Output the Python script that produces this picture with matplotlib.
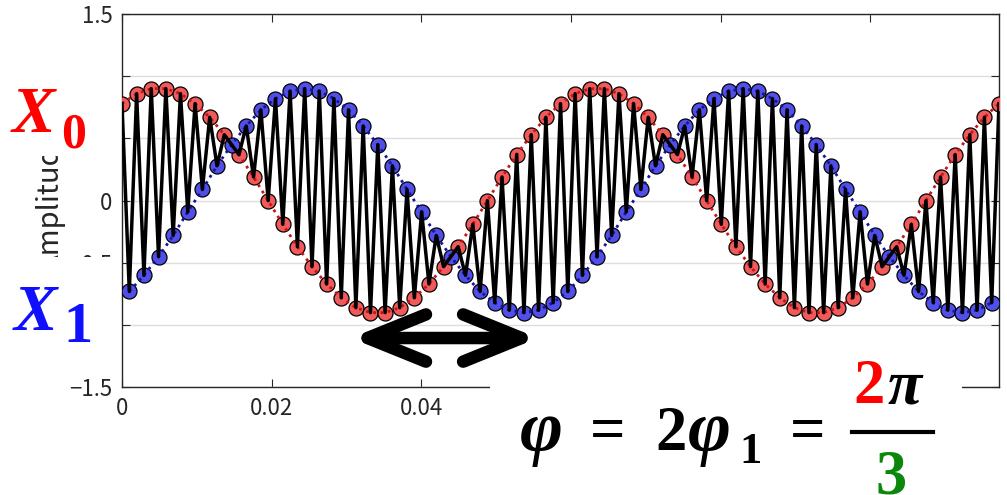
"""
  polyphase samples X0 / X1 on a near-nyquist signal, with the phase annotation
"""
import numpy as np
import matplotlib
matplotlib.use('Agg')
from matplotlib import pyplot as plt
from matplotlib.patches import Rectangle
from matplotlib.lines import Line2D

W,H=1007,495
fs=1024.   #sample rate, Hz

#even samples (red, X0) and odd samples (blue, X1)
red_vals=[0.78,0.86,0.90,0.90,0.86,0.78,0.67,0.53,0.37,0.19,
          0.00,-0.19,-0.37,-0.53,-0.67,-0.78,-0.86,-0.90,-0.90,-0.86,
          -0.78,-0.67,-0.53,-0.37,-0.19,0.00,0.19,0.37,0.53,0.67,
          0.78,0.86,0.90,0.90,0.86,0.78,0.67,0.53,0.37,0.19,
          0.00,-0.19,-0.37,-0.53,-0.67,-0.78,-0.86,-0.90,-0.90,-0.86,
          -0.78,-0.67,-0.53,-0.37,-0.19,0.00,0.19,0.37,0.53,0.67,
          0.78]
blue_vals=[-0.73,-0.60,-0.45,-0.28,-0.09,0.09,0.28,0.45,0.60,0.73,
           0.82,0.88,0.90,0.88,0.82,0.73,0.60,0.45,0.28,0.09,
           -0.09,-0.28,-0.45,-0.60,-0.73,-0.82,-0.88,-0.90,-0.88,-0.82,
           -0.73,-0.60,-0.45,-0.28,-0.09,0.09,0.28,0.45,0.60,0.73,
           0.82,0.88,0.90,0.88,0.82,0.73,0.60,0.45,0.28,0.09,
           -0.09,-0.28,-0.45,-0.60,-0.73,-0.82,-0.88,-0.90,-0.88,-0.82]

yticks=[-1.5,-1,-0.5,0,0.5,1,1.5]
ylabels=['\u22121.5','\u22121','\u22120.5','0','0.5','1','1.5']
xticks=[0,0.02,0.04,0.06,0.08,0.1]
xlabels=['0','0.02','0.04','0.06','0.08','0.1']

red=np.array(red_vals)
blue=np.array(blue_vals)
sig=np.empty(len(red)+len(blue))
sig[0::2]=red
sig[1::2]=blue
t_all=np.arange(len(sig))/fs
t_red=t_all[0::2]
t_blue=t_all[1::2]

gray='#262626'
fig=plt.figure(figsize=(W/100.,H/100.),dpi=100)
ax=fig.add_axes([122./W,(H-387.3)/H,877./W,(387.3-14.)/H])

ax.plot(t_red,red,'o',ms=10.8,mfc='#f05a5a',mec='k',mew=0.9,zorder=3)
ax.plot(t_blue,blue,'o',ms=10.8,mfc='#5050e8',mec='k',mew=0.9,zorder=3)
ax.plot(t_red,red,':',color='#c81414',lw=2.,zorder=4)
ax.plot(t_blue,blue,':',color='#1414a0',lw=2.,zorder=4)
ax.plot(t_all,sig,'k-',lw=2.5,zorder=5)

ax.set_xlim(0,t_all[-1])
ax.set_ylim(-1.5,1.5)
ax.set_yticks(yticks)
ax.set_yticklabels(ylabels)
ax.set_xticks(xticks)
ax.set_xticklabels(xlabels)
ax.yaxis.grid(True,color='#dedede',lw=1.)
ax.set_axisbelow(True)
ax.tick_params(direction='in',top=True,right=True,length=6,width=0.8,
               color=gray,labelcolor=gray,labelsize=16)
ax.tick_params(axis='x',pad=7)
ax.tick_params(axis='y',pad=7)
for lab in ax.get_xticklabels()+ax.get_yticklabels():
    lab.set_family(['Noto Sans CJK JP','DejaVu Sans'])
for sp in ax.spines.values():
    sp.set_color(gray)
    sp.set_linewidth(1.)
ax.set_ylabel('Amplitude',fontsize=21,color=gray,family=['Noto Sans CJK JP','DejaVu Sans'],labelpad=2)

#double arrow under the trough
ax.annotate('',xy=(0.0556,-1.104),xytext=(0.0306,-1.104),
            arrowprops=dict(arrowstyle='<->,head_length=2.1,head_width=0.85',
                            lw=9,color='k',shrinkA=0,shrinkB=0,mutation_scale=20),
            zorder=6)

#white boxes of the pasted labels
def box(x0,y0,x1,y1):
    fig.add_artist(Rectangle((x0/W,1-y1/H),(x1-x0)/W,(y1-y0)/H,transform=fig.transFigure,
                             fc='white',ec='none',zorder=10))
box(0,30,116,156)
box(0,257,116,366)
box(490,377,962,495)

def ftext(x,y,s,size,color='k',italic=False):
    fig.text(x/W,1-y/H,s,ha='left',va='baseline',fontsize=size,color=color,
             family='Liberation Serif',weight='bold',
             style='italic' if italic else 'normal',zorder=11)

red_c='#ff0000'
blue_c='#1010ff'
green_c='#0b870b'
ftext(12,132,'X',47,red_c,True)
ftext(61,147,'0',36,red_c)
ftext(14,330,'X',47,blue_c,True)
ftext(63,342,'1',42,blue_c)

ftext(520,451,'\u03c6',53,italic=True)
ftext(590,450,'=',45)
ftext(655,450,'2',45)
ftext(688,451,'\u03c6',53,italic=True)
ftext(739,463,'1',32)
ftext(790,450,'=',45)
fig.add_artist(Line2D([852./W,933./W],[1-432./H,1-432./H],transform=fig.transFigure,
                      color='k',lw=3,zorder=11))
ftext(853,403,'2',45,red_c)
ftext(888,403,'\u03c0',45,italic=True)
ftext(876,494,'3',45,green_c)

fig.savefig('out.png',dpi=100)
